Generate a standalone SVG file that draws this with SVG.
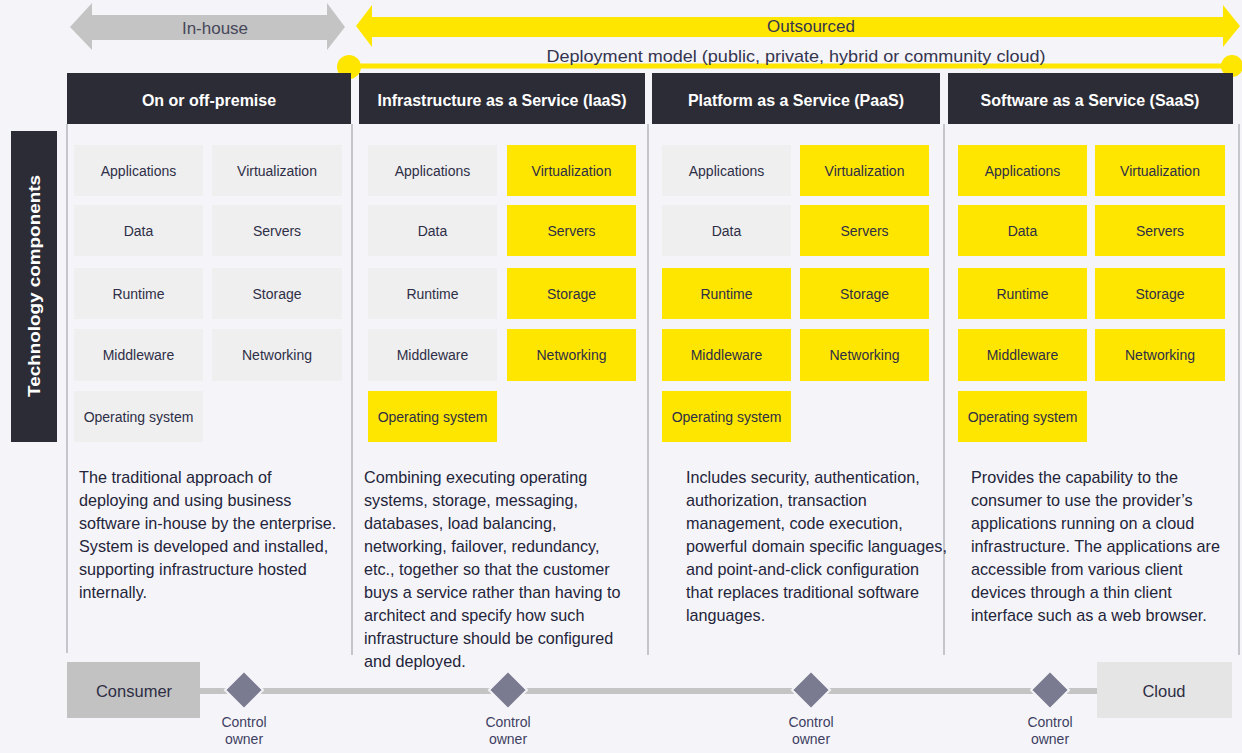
<svg xmlns="http://www.w3.org/2000/svg" width="1242" height="753" viewBox="0 0 1242 753">
<style>
  .bg{fill:#f5f5f9}
  .hdr{fill:#2c2c36}
  .hdrt{font-family:"Liberation Sans",Arial,sans-serif;font-size:16px;font-weight:bold;fill:#ffffff;text-anchor:middle}
  .g{fill:#efeff0}
  .y{fill:#ffe600}
  .ct{font-family:"Liberation Sans",Arial,sans-serif;font-size:14px;fill:#2e2e46;text-anchor:middle}
  .desc{font-family:"Liberation Sans",Arial,sans-serif;font-size:16.2px;fill:#24243a}
  .sep{stroke:#b4b4bc;stroke-width:1.5;fill:none}
  .conn{stroke:#c4c4c4;stroke-width:6;fill:none}
  .dia{fill:#7a7a91;stroke:#f5f5f9;stroke-width:2}
  .co{font-family:"Liberation Sans",Arial,sans-serif;font-size:14px;fill:#3e3e62;text-anchor:middle}
  .big{font-family:"Liberation Sans",Arial,sans-serif;font-size:17px;fill:#34344e;text-anchor:middle}
</style>
<rect class="bg" x="0" y="0" width="1242" height="753"/>

<g id="in-house">
  <polygon points="70,27 92,3 92,15 327,15 327,3 345,27 327,50 327,40 92,40 92,50" fill="#c4c4c4"/>
  <text class="big" x="215" y="34" style="fill:#47475a">In-house</text>
</g>

<g id="outsourced">
  <polygon points="356,26 372,5 372,17 1223,17 1223,5 1240,26 1223,47 1223,37 372,37 372,47" fill="#ffe600"/>
  <text class="big" x="811" y="32">Outsourced</text>
</g>

<g id="deployment-model">
  <line x1="349" y1="66" x2="1233" y2="66" stroke="#ffe600" stroke-width="5"/>
  <circle cx="349" cy="67" r="12" fill="#ffe600"/>
  <circle cx="1232" cy="66" r="11" fill="#ffe600"/>
  <text class="big" x="796" y="62" textLength="499" lengthAdjust="spacingAndGlyphs">Deployment model (public, private, hybrid or community cloud)</text>
</g>

<g id="tech-components">
  <rect class="hdr" x="11" y="131" width="46" height="311"/>
  <text transform="translate(40,286) rotate(-90)" font-family="Liberation Sans, Arial, sans-serif" font-size="17px" font-weight="bold" fill="#ffffff" text-anchor="middle" textLength="222" lengthAdjust="spacingAndGlyphs">Technology components</text>
</g>

<g id="separators">
  <line class="sep" x1="67" y1="124" x2="67" y2="653"/>
  <line class="sep" x1="352" y1="124" x2="352" y2="655"/>
  <line class="sep" x1="648" y1="124" x2="648" y2="655"/>
  <line class="sep" x1="944" y1="124" x2="944" y2="655"/>
  <line class="sep" x1="1239" y1="124" x2="1239" y2="655"/>
</g>

<g id="col-onprem">
  <rect class="hdr" x="67" y="73" width="284" height="51"/>
  <text class="hdrt" x="209" y="106">On or off-premise</text>
  <rect class="g" x="74" y="145" width="129" height="51"/><text class="ct" x="138.5" y="175.5">Applications</text>
  <rect class="g" x="212" y="145" width="130" height="51"/><text class="ct" x="277" y="175.5">Virtualization</text>
  <rect class="g" x="74" y="205" width="129" height="51"/><text class="ct" x="138.5" y="235.5">Data</text>
  <rect class="g" x="212" y="205" width="130" height="51"/><text class="ct" x="277" y="235.5">Servers</text>
  <rect class="g" x="74" y="268" width="129" height="51"/><text class="ct" x="138.5" y="298.5">Runtime</text>
  <rect class="g" x="212" y="268" width="130" height="51"/><text class="ct" x="277" y="298.5">Storage</text>
  <rect class="g" x="74" y="329" width="129" height="52"/><text class="ct" x="138.5" y="360">Middleware</text>
  <rect class="g" x="212" y="329" width="130" height="52"/><text class="ct" x="277" y="360">Networking</text>
  <rect class="g" x="74" y="391" width="129" height="51"/><text class="ct" x="138.5" y="421.5">Operating system</text>
  <text class="desc" x="79" y="483">The traditional approach of</text>
  <text class="desc" x="79" y="506">deploying and using business</text>
  <text class="desc" x="79" y="529">software in-house by the enterprise.</text>
  <text class="desc" x="79" y="552">System is developed and installed,</text>
  <text class="desc" x="79" y="575">supporting infrastructure hosted</text>
  <text class="desc" x="79" y="598">internally.</text>
</g>

<g id="col-iaas">
  <rect class="hdr" x="359" y="73" width="286" height="51"/>
  <text class="hdrt" x="502" y="106">Infrastructure as a Service (IaaS)</text>
  <rect class="g" x="368" y="145" width="129" height="51"/><text class="ct" x="432.5" y="175.5">Applications</text>
  <rect class="y" x="507" y="145" width="129" height="51"/><text class="ct" x="571.5" y="175.5">Virtualization</text>
  <rect class="g" x="368" y="205" width="129" height="51"/><text class="ct" x="432.5" y="235.5">Data</text>
  <rect class="y" x="507" y="205" width="129" height="51"/><text class="ct" x="571.5" y="235.5">Servers</text>
  <rect class="g" x="368" y="268" width="129" height="51"/><text class="ct" x="432.5" y="298.5">Runtime</text>
  <rect class="y" x="507" y="268" width="129" height="51"/><text class="ct" x="571.5" y="298.5">Storage</text>
  <rect class="g" x="368" y="329" width="129" height="52"/><text class="ct" x="432.5" y="360">Middleware</text>
  <rect class="y" x="507" y="329" width="129" height="52"/><text class="ct" x="571.5" y="360">Networking</text>
  <rect class="y" x="368" y="391" width="129" height="51"/><text class="ct" x="432.5" y="421.5">Operating system</text>
  <text class="desc" x="364" y="483">Combining executing operating</text>
  <text class="desc" x="364" y="506">systems, storage, messaging,</text>
  <text class="desc" x="364" y="529">databases, load balancing,</text>
  <text class="desc" x="364" y="552">networking, failover, redundancy,</text>
  <text class="desc" x="364" y="575">etc., together so that the customer</text>
  <text class="desc" x="364" y="598">buys a service rather than having to</text>
  <text class="desc" x="364" y="621">architect and specify how such</text>
  <text class="desc" x="364" y="644">infrastructure should be configured</text>
  <text class="desc" x="364" y="667">and deployed.</text>
</g>

<g id="col-paas">
  <rect class="hdr" x="652" y="73" width="288" height="51"/>
  <text class="hdrt" x="796" y="106">Platform as a Service (PaaS)</text>
  <rect class="g" x="662" y="145" width="129" height="51"/><text class="ct" x="726.5" y="175.5">Applications</text>
  <rect class="y" x="800" y="145" width="129" height="51"/><text class="ct" x="864.5" y="175.5">Virtualization</text>
  <rect class="g" x="662" y="205" width="129" height="51"/><text class="ct" x="726.5" y="235.5">Data</text>
  <rect class="y" x="800" y="205" width="129" height="51"/><text class="ct" x="864.5" y="235.5">Servers</text>
  <rect class="y" x="662" y="268" width="129" height="51"/><text class="ct" x="726.5" y="298.5">Runtime</text>
  <rect class="y" x="800" y="268" width="129" height="51"/><text class="ct" x="864.5" y="298.5">Storage</text>
  <rect class="y" x="662" y="329" width="129" height="52"/><text class="ct" x="726.5" y="360">Middleware</text>
  <rect class="y" x="800" y="329" width="129" height="52"/><text class="ct" x="864.5" y="360">Networking</text>
  <rect class="y" x="662" y="391" width="129" height="51"/><text class="ct" x="726.5" y="421.5">Operating system</text>
  <text class="desc" x="686" y="483">Includes security, authentication,</text>
  <text class="desc" x="686" y="506">authorization, transaction</text>
  <text class="desc" x="686" y="529">management, code execution,</text>
  <text class="desc" x="686" y="552">powerful domain specific languages,</text>
  <text class="desc" x="686" y="575">and point-and-click configuration</text>
  <text class="desc" x="686" y="598">that replaces traditional software</text>
  <text class="desc" x="686" y="621">languages.</text>
</g>

<g id="col-saas">
  <rect class="hdr" x="948" y="73" width="285" height="51"/>
  <text class="hdrt" x="1090" y="106">Software as a Service (SaaS)</text>
  <rect class="y" x="958" y="145" width="129" height="51"/><text class="ct" x="1022.5" y="175.5">Applications</text>
  <rect class="y" x="1095" y="145" width="130" height="51"/><text class="ct" x="1160" y="175.5">Virtualization</text>
  <rect class="y" x="958" y="205" width="129" height="51"/><text class="ct" x="1022.5" y="235.5">Data</text>
  <rect class="y" x="1095" y="205" width="130" height="51"/><text class="ct" x="1160" y="235.5">Servers</text>
  <rect class="y" x="958" y="268" width="129" height="51"/><text class="ct" x="1022.5" y="298.5">Runtime</text>
  <rect class="y" x="1095" y="268" width="130" height="51"/><text class="ct" x="1160" y="298.5">Storage</text>
  <rect class="y" x="958" y="329" width="129" height="52"/><text class="ct" x="1022.5" y="360">Middleware</text>
  <rect class="y" x="1095" y="329" width="130" height="52"/><text class="ct" x="1160" y="360">Networking</text>
  <rect class="y" x="958" y="391" width="129" height="51"/><text class="ct" x="1022.5" y="421.5">Operating system</text>
  <text class="desc" x="971" y="483">Provides the capability to the</text>
  <text class="desc" x="971" y="506">consumer to use the provider’s</text>
  <text class="desc" x="971" y="529">applications running on a cloud</text>
  <text class="desc" x="971" y="552">infrastructure. The applications are</text>
  <text class="desc" x="971" y="575">accessible from various client</text>
  <text class="desc" x="971" y="598">devices through a thin client</text>
  <text class="desc" x="971" y="621">interface such as a web browser.</text>
</g>

<g id="connectors">
  <line class="conn" x1="200" y1="691" x2="1097" y2="691"/>
</g>

<g id="consumer">
  <rect x="67" y="662" width="133" height="56" fill="#c2c2c2"/>
  <text class="big" x="134" y="697" style="font-size:16.5px;fill:#2e2e44">Consumer</text>
</g>
<g id="cloud">
  <rect x="1097" y="662" width="135" height="56" fill="#e5e5e5"/>
  <text class="big" x="1164" y="697" style="font-size:16.5px;fill:#2e2e44">Cloud</text>
</g>

<g id="control-owner-1">
  <polygon class="dia" points="244,671 263,690 244,709 225,690"/>
  <text class="co" x="244" y="727">Control</text><text class="co" x="244" y="744">owner</text>
</g>
<g id="control-owner-2">
  <polygon class="dia" points="508,671 527,690 508,709 489,690"/>
  <text class="co" x="508" y="727">Control</text><text class="co" x="508" y="744">owner</text>
</g>
<g id="control-owner-3">
  <polygon class="dia" points="811,671 830,690 811,709 792,690"/>
  <text class="co" x="811" y="727">Control</text><text class="co" x="811" y="744">owner</text>
</g>
<g id="control-owner-4">
  <polygon class="dia" points="1050,671 1069,690 1050,709 1031,690"/>
  <text class="co" x="1050" y="727">Control</text><text class="co" x="1050" y="744">owner</text>
</g>
</svg>
